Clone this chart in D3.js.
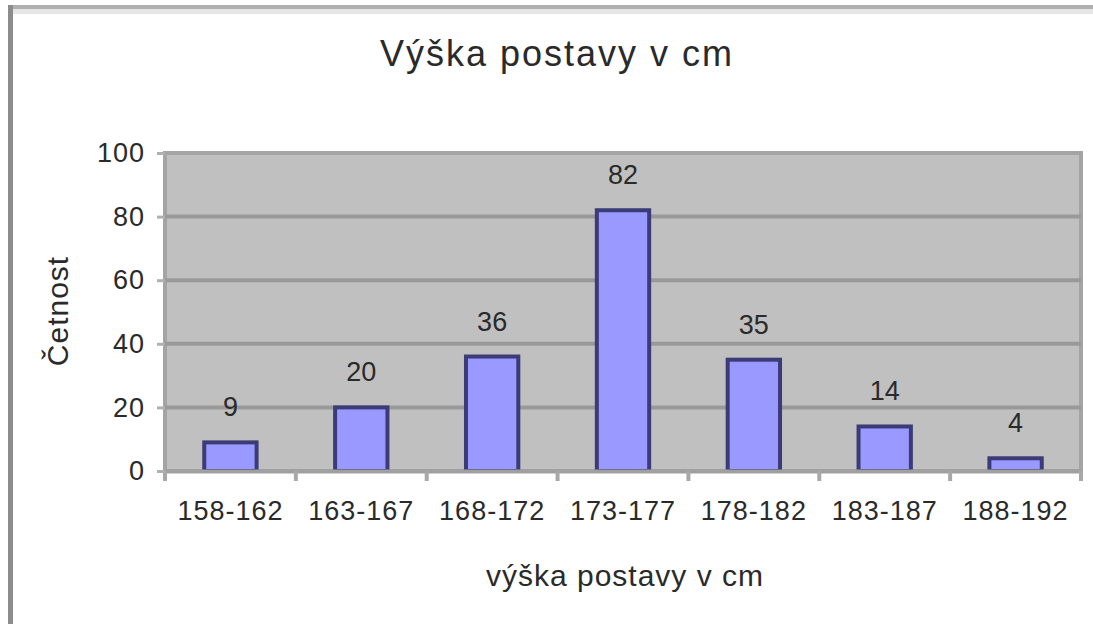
<!DOCTYPE html>
<html lang="cs">
<head>
  <meta charset="UTF-8">
  <title>Výška postavy v cm</title>
  <script src="https://d3js.org/d3.v7.min.js"></script>
  <style>
    body { margin: 0; background: #fff; }
    text { font-family: "Liberation Sans", Arial, sans-serif; fill: #2a2a2a; }
  </style>
</head>
<body>
  <script>
    var categories = ["158-162", "163-167", "168-172", "173-177", "178-182", "183-187", "188-192"];
    var counts = [9, 20, 36, 82, 35, 14, 4];
    var yTicks = [0, 20, 40, 60, 80, 100];

    var w = 1093;
    var h = 624;

    var plot = { left: 165, right: 1081, top: 153, bottom: 471 };

    var svg = d3.select("body")
                .append("svg")
                .attr("width", w)
                .attr("height", h);

    // chart frame (only top and left edges are visible in the crop)
    svg.append("rect")
       .attr("x", 8).attr("y", 9).attr("width", w).attr("height", 5)
       .attr("fill", "#e6e6e6");
    svg.append("rect")
       .attr("x", 8).attr("y", 5).attr("width", w).attr("height", 4)
       .attr("fill", "#b0b0b0");
    svg.append("rect")
       .attr("x", 8).attr("y", 5).attr("width", 5).attr("height", h)
       .attr("fill", "#8c8c8c");

    var xScale = d3.scaleBand()
                   .domain(categories)
                   .range([plot.left, plot.right])
                   .paddingInner(0.6)
                   .paddingOuter(0.3);

    var xOuter = d3.scaleBand()
                   .domain(categories)
                   .range([plot.left, plot.right]);

    var yScale = d3.scaleLinear()
                   .domain([0, 100])
                   .range([plot.bottom, plot.top]);

    // plot area
    svg.append("rect")
       .attr("x", plot.left)
       .attr("y", plot.top)
       .attr("width", plot.right - plot.left)
       .attr("height", plot.bottom - plot.top)
       .attr("fill", "#c0c0c0")
       .attr("stroke", "#a4a4a4")
       .attr("stroke-width", 4);

    // gridlines
    svg.selectAll("line.grid")
       .data(yTicks.slice(1, -1))
       .enter()
       .append("line")
       .attr("class", "grid")
       .attr("x1", plot.left)
       .attr("x2", plot.right)
       .attr("y1", function(d) { return yScale(d); })
       .attr("y2", function(d) { return yScale(d); })
       .attr("stroke", "#999999")
       .attr("stroke-width", 4);

    // bars
    svg.selectAll("rect.bar")
       .data(counts)
       .enter()
       .append("rect")
       .attr("class", "bar")
       .attr("x", function(d, i) { return xScale(categories[i]); })
       .attr("y", function(d) { return yScale(d); })
       .attr("width", xScale.bandwidth())
       .attr("height", function(d) { return yScale(0) - yScale(d); })
       .attr("fill", "#9999ff")
       .attr("stroke", "#3b3b78")
       .attr("stroke-width", 4);

    // data labels
    svg.selectAll("text.value")
       .data(counts)
       .enter()
       .append("text")
       .attr("class", "value")
       .text(function(d) { return d; })
       .attr("x", function(d, i) { return xScale(categories[i]) + xScale.bandwidth() / 2; })
       .attr("y", function(d) { return yScale(d) - 26; })
       .attr("text-anchor", "middle")
       .attr("font-size", 27);

    // x axis
    var xAxis = d3.axisBottom(xOuter).tickSize(0).tickPadding(30);
    var gx = svg.append("g")
       .attr("transform", "translate(0," + plot.bottom + ")")
       .call(xAxis);
    gx.select(".domain").attr("stroke", "#a0a0a0").attr("stroke-width", 4);
    gx.selectAll("text").attr("font-size", 27).attr("fill", "#3a3a3a").attr("letter-spacing", 1);

    gx.selectAll("line.bound")
      .data(d3.range(categories.length + 1))
      .enter()
      .append("line")
      .attr("class", "bound")
      .attr("x1", function(i) { return plot.left + i * xOuter.step(); })
      .attr("x2", function(i) { return plot.left + i * xOuter.step(); })
      .attr("y1", 0)
      .attr("y2", 10)
      .attr("stroke", "#a8a8a8")
      .attr("stroke-width", 4);

    // y axis
    var yAxis = d3.axisLeft(yScale).tickValues(yTicks).tickSize(8).tickPadding(12);
    var gy = svg.append("g")
       .attr("transform", "translate(" + plot.left + ",0)")
       .call(yAxis);
    gy.select(".domain").remove();
    gy.selectAll("line").attr("stroke", "#b0b0b0").attr("stroke-width", 3);
    gy.selectAll("text").attr("font-size", 27).attr("fill", "#3a3a3a").attr("letter-spacing", 1);

    // titles
    svg.append("text")
       .text("Výška postavy v cm")
       .attr("x", 557)
       .attr("y", 66)
       .attr("text-anchor", "middle")
       .attr("font-size", 36)
       .attr("letter-spacing", 2);

    svg.append("text")
       .text("výška postavy v cm")
       .attr("x", 625)
       .attr("y", 586)
       .attr("text-anchor", "middle")
       .attr("font-size", 30)
       .attr("letter-spacing", 1);

    svg.append("text")
       .text("Četnost")
       .attr("transform", "translate(68,311) rotate(-90)")
       .attr("text-anchor", "middle")
       .attr("font-size", 30)
       .attr("letter-spacing", 1);
  </script>
</body>
</html>
